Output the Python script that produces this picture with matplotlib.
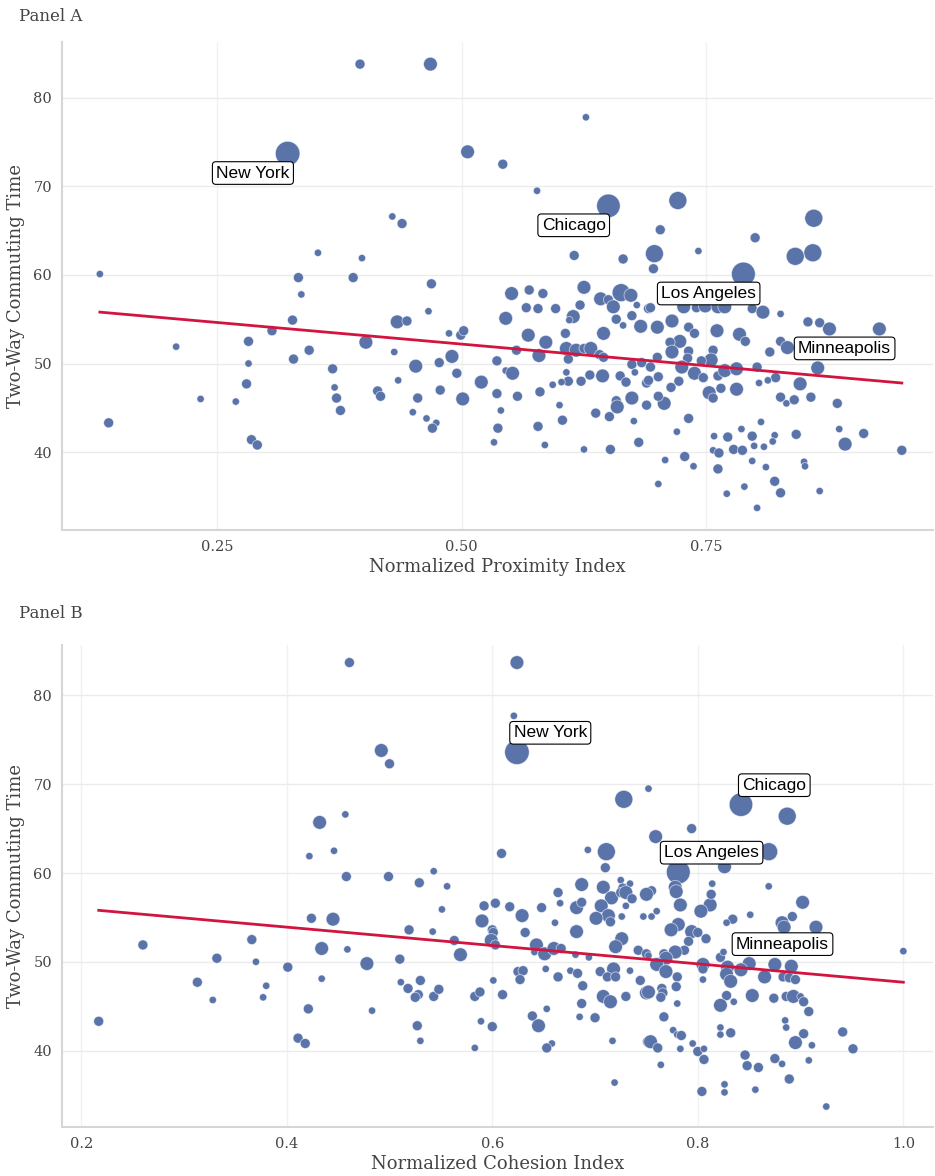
import numpy as np
import matplotlib
matplotlib.use("Agg")
import matplotlib.pyplot as plt

# Panel A: proximity index vs commuting time (first four rows are the labelled cities)
cities = ["New York", "Chicago", "Los Angeles", "Minneapolis"]

xA = [0.322, 0.650, 0.788, 0.927,
      0.396, 0.468, 0.627, 0.506, 0.542, 0.577, 0.721, 0.703, 0.429, 0.439, 0.860, 0.697,
      0.859, 0.841, 0.800, 0.353, 0.398, 0.742, 0.615, 0.665, 0.696, 0.130, 0.333, 0.389,
      0.336, 0.327, 0.306, 0.282, 0.344, 0.208, 0.282, 0.328, 0.368, 0.280, 0.370, 0.372,
      0.376, 0.233, 0.269, 0.139, 0.285, 0.291, 0.469, 0.466, 0.434, 0.444, 0.402, 0.431,
      0.487, 0.499, 0.502, 0.453, 0.477, 0.490, 0.495, 0.435, 0.414, 0.417, 0.455, 0.478,
      0.501, 0.450, 0.464, 0.474, 0.470, 0.520, 0.536, 0.545, 0.552, 0.536, 0.557, 0.540,
      0.537, 0.533, 0.551, 0.569, 0.583, 0.566, 0.578, 0.596, 0.545, 0.568, 0.586, 0.556,
      0.579, 0.625, 0.621, 0.614, 0.610, 0.606, 0.607, 0.617, 0.625, 0.632, 0.609, 0.642,
      0.650, 0.655, 0.663, 0.673, 0.679, 0.658, 0.665, 0.674, 0.683, 0.691, 0.645, 0.641,
      0.645, 0.607, 0.609, 0.602, 0.593, 0.580, 0.622, 0.631, 0.644, 0.662, 0.668, 0.674,
      0.677, 0.674, 0.658, 0.659, 0.689, 0.689, 0.600, 0.603, 0.637, 0.651, 0.676, 0.578,
      0.585, 0.625, 0.652, 0.681, 0.684, 0.693, 0.727, 0.740, 0.749, 0.762, 0.769, 0.797,
      0.808, 0.826, 0.854, 0.866, 0.876, 0.700, 0.715, 0.732, 0.738, 0.723, 0.713, 0.715,
      0.732, 0.761, 0.784, 0.790, 0.757, 0.755, 0.745, 0.731, 0.725, 0.700, 0.693, 0.691,
      0.701, 0.722, 0.738, 0.747, 0.762, 0.769, 0.781, 0.802, 0.826, 0.815, 0.833, 0.821,
      0.813, 0.804, 0.846, 0.826, 0.832, 0.840, 0.857, 0.884, 0.864, 0.753, 0.757, 0.765,
      0.781, 0.714, 0.707, 0.701, 0.732, 0.720, 0.758, 0.772, 0.786, 0.797, 0.806, 0.820,
      0.818, 0.842, 0.886, 0.911, 0.892, 0.950, 0.708, 0.728, 0.737, 0.757, 0.763, 0.778,
      0.787, 0.799, 0.809, 0.797, 0.811, 0.850, 0.851, 0.762, 0.701, 0.789, 0.771, 0.820,
      0.826, 0.866, 0.802]
yA = [73.7, 67.8, 60.1, 53.9,
      83.8, 83.8, 77.8, 73.9, 72.5, 69.5, 68.4, 65.1, 66.6, 65.8, 66.4, 62.4,
      62.5, 62.1, 64.2, 62.5, 61.9, 62.7, 62.2, 61.8, 60.7, 60.1, 59.7, 59.7,
      57.8, 54.9, 53.7, 52.5, 51.5, 51.9, 50.0, 50.5, 49.4, 47.7, 47.3, 46.1,
      44.7, 46.0, 45.7, 43.3, 41.4, 40.8, 59.0, 55.9, 54.7, 54.8, 52.4, 51.3,
      53.4, 53.2, 53.7, 49.7, 50.1, 50.8, 48.9, 48.1, 46.9, 46.3, 46.1, 47.0,
      46.0, 44.5, 43.8, 43.3, 42.7, 47.9, 50.3, 49.2, 48.9, 46.6, 46.3, 44.7,
      42.7, 41.1, 57.9, 58.3, 57.9, 56.3, 56.2, 56.2, 55.1, 53.2, 52.4, 51.5,
      50.9, 58.6, 56.6, 55.3, 54.9, 53.4, 51.7, 51.5, 51.7, 51.7, 50.5, 57.3,
      57.2, 56.4, 58.0, 57.7, 56.6, 55.0, 54.3, 55.4, 54.2, 56.2, 53.4, 51.0,
      50.7, 49.0, 48.0, 47.9, 47.6, 46.8, 48.0, 48.7, 48.6, 48.6, 47.9, 49.9,
      49.0, 46.1, 45.8, 45.1, 47.8, 45.3, 45.3, 43.6, 44.4, 44.0, 43.5, 42.9,
      40.8, 40.3, 40.3, 41.1, 50.1, 56.3, 56.4, 56.3, 56.5, 56.4, 56.4, 56.2,
      55.8, 55.6, 54.7, 54.6, 53.9, 54.1, 54.8, 54.1, 53.4, 52.5, 52.4, 51.3,
      51.4, 53.7, 53.3, 52.5, 51.5, 50.4, 50.3, 50.6, 49.6, 50.7, 49.6, 48.1,
      48.5, 48.0, 48.9, 48.4, 48.6, 49.2, 49.4, 49.6, 52.5, 51.3, 51.8, 48.4,
      48.1, 47.8, 47.7, 46.2, 45.5, 45.9, 46.2, 45.5, 49.5, 46.7, 46.1, 47.2,
      47.1, 47.3, 45.5, 46.3, 43.8, 42.3, 41.8, 41.7, 42.6, 41.8, 43.4, 41.9,
      41.2, 42.0, 42.6, 42.1, 40.9, 40.2, 39.1, 39.5, 38.4, 40.2, 39.9, 40.3,
      40.2, 40.7, 40.6, 39.0, 38.3, 38.9, 38.4, 38.1, 36.4, 36.1, 35.3, 36.7,
      35.4, 35.6, 33.7]
popA = [10.5, 9.5, 9.8, 2.5,
        1.0, 2.5, 0.35, 2.5, 1.0, 0.35, 5.0, 1.0, 0.35, 1.0, 5.0, 5.0,
        5.0, 5.0, 1.0, 0.35, 0.35, 0.35, 1.0, 1.0, 1.0, 0.35, 1.0, 1.0,
        0.35, 1.0, 1.0, 1.0, 1.0, 0.35, 0.35, 1.0, 1.0, 1.0, 0.35, 1.0,
        1.0, 0.35, 0.35, 1.0, 1.0, 1.0, 1.0, 0.35, 2.5, 1.0, 2.5, 0.35,
        0.35, 1.0, 1.0, 2.5, 1.0, 2.5, 1.0, 0.35, 1.0, 1.0, 1.0, 1.0,
        2.5, 0.35, 0.35, 0.35, 1.0, 2.5, 1.0, 0.35, 2.5, 1.0, 1.0, 0.35,
        1.0, 0.35, 2.5, 1.0, 1.0, 1.0, 1.0, 1.0, 2.5, 2.5, 2.5, 1.0,
        2.5, 2.5, 1.0, 2.5, 0.35, 1.0, 2.5, 2.5, 1.0, 2.5, 1.0, 2.5,
        1.0, 2.5, 5.0, 2.5, 0.35, 1.0, 0.35, 1.0, 2.5, 1.0, 2.5, 1.0,
        1.0, 0.35, 1.0, 0.35, 0.35, 1.0, 1.0, 1.0, 2.5, 1.0, 1.0, 1.0,
        0.35, 2.5, 1.0, 2.5, 1.0, 1.0, 0.35, 1.0, 1.0, 1.0, 0.35, 1.0,
        0.35, 0.35, 1.0, 1.0, 1.0, 1.0, 2.5, 1.0, 2.5, 2.5, 2.5, 1.0,
        2.5, 0.35, 1.0, 1.0, 2.5, 2.5, 2.5, 1.0, 1.0, 2.5, 1.0, 2.5,
        1.0, 2.5, 2.5, 1.0, 1.0, 2.5, 1.0, 1.0, 2.5, 1.0, 1.0, 1.0,
        1.0, 1.0, 2.5, 1.0, 1.0, 2.5, 2.5, 1.0, 1.0, 1.0, 2.5, 1.0,
        0.35, 0.35, 2.5, 1.0, 0.35, 1.0, 1.0, 1.0, 2.5, 2.5, 1.0, 1.0,
        2.5, 1.0, 2.5, 1.0, 1.0, 0.35, 0.35, 1.0, 0.35, 1.0, 0.35, 0.35,
        0.35, 1.0, 0.35, 1.0, 2.5, 1.0, 0.35, 1.0, 0.35, 0.35, 1.0, 1.0,
        1.0, 0.35, 0.35, 0.35, 0.35, 0.35, 0.35, 1.0, 0.35, 0.35, 0.35, 1.0,
        1.0, 0.35, 0.35]

# Panel B: cohesion index vs commuting time
xB = [0.624, 0.842, 0.781, 0.850,
      0.461, 0.432, 0.457, 0.446, 0.422, 0.458, 0.624, 0.621, 0.492, 0.500, 0.728, 0.752,
      0.609, 0.693, 0.711, 0.710, 0.499, 0.529, 0.543, 0.556, 0.687, 0.708, 0.725, 0.734,
      0.727, 0.887, 0.794, 0.759, 0.869, 0.826, 0.778, 0.814, 0.869, 0.755, 0.424, 0.445,
      0.260, 0.366, 0.434, 0.459, 0.332, 0.370, 0.401, 0.313, 0.328, 0.380, 0.377, 0.434,
      0.421, 0.217, 0.411, 0.418, 0.551, 0.519, 0.542, 0.478, 0.510, 0.511, 0.518, 0.530,
      0.528, 0.525, 0.543, 0.548, 0.563, 0.569, 0.483, 0.527, 0.530, 0.583, 0.589, 0.600,
      0.583, 0.588, 0.610, 0.601, 0.590, 0.592, 0.603, 0.617, 0.629, 0.600, 0.601, 0.599,
      0.603, 0.632, 0.625, 0.630, 0.627, 0.643, 0.641, 0.651, 0.660, 0.667, 0.648, 0.666,
      0.664, 0.661, 0.652, 0.664, 0.639, 0.645, 0.653, 0.658, 0.653, 0.682, 0.682, 0.687,
      0.681, 0.694, 0.676, 0.683, 0.688, 0.687, 0.685, 0.700, 0.716, 0.725, 0.730, 0.736,
      0.730, 0.706, 0.713, 0.701, 0.715, 0.726, 0.726, 0.720, 0.742, 0.750, 0.747, 0.750,
      0.705, 0.718, 0.712, 0.720, 0.734, 0.744, 0.750, 0.708, 0.715, 0.730, 0.717, 0.719,
      0.751, 0.779, 0.783, 0.812, 0.813, 0.803, 0.902, 0.892, 0.851, 0.834, 0.828, 0.882,
      0.884, 0.915, 0.755, 0.760, 0.781, 0.774, 0.794, 0.800, 0.808, 0.791, 0.787, 0.778,
      0.767, 0.752, 0.769, 0.760, 0.769, 0.780, 0.805, 0.805, 0.805, 0.822, 0.829, 0.828,
      0.832, 0.842, 0.825, 0.875, 0.891, 0.865, 0.883, 0.889, 0.895, 0.752, 0.765, 0.766,
      0.764, 0.779, 0.780, 0.828, 0.835, 0.822, 0.853, 0.874, 0.886, 0.893, 0.900, 0.903,
      0.908, 0.767, 0.776, 0.780, 0.784, 0.754, 0.761, 0.783, 0.795, 0.800, 0.806, 0.806,
      0.764, 0.822, 0.822, 0.832, 0.804, 0.826, 0.826, 0.846, 0.848, 0.859, 0.856, 0.885,
      0.886, 0.903, 0.895, 0.911, 0.875, 0.882, 0.908, 0.889, 0.925, 0.941, 0.951, 1.000]
yB = [73.6, 67.7, 60.1, 49.8,
      83.7, 65.7, 66.6, 62.5, 61.9, 59.6, 83.7, 77.7, 73.8, 72.3, 68.3, 69.5,
      62.2, 62.6, 62.4, 60.6, 59.6, 58.9, 60.2, 58.5, 58.7, 58.4, 59.2, 58.8,
      58.3, 66.4, 65.0, 64.1, 62.4, 60.7, 58.4, 58.8, 58.5, 58.0, 54.9, 54.8,
      51.9, 52.5, 51.5, 51.4, 50.4, 50.0, 49.4, 47.7, 45.7, 47.3, 46.0, 48.1,
      44.7, 43.3, 41.4, 40.8, 55.9, 53.6, 53.4, 49.8, 50.3, 47.7, 47.0, 47.9,
      46.3, 46.0, 46.1, 46.9, 52.4, 50.8, 44.5, 42.8, 41.1, 40.3, 43.3, 42.7,
      46.1, 46.6, 46.3, 47.9, 54.6, 56.3, 56.6, 56.2, 55.2, 53.6, 53.3, 52.4,
      51.9, 53.3, 48.9, 49.0, 48.0, 51.9, 51.1, 50.9, 51.5, 51.5, 56.1, 56.6,
      57.8, 54.4, 49.2, 48.3, 43.9, 42.8, 44.7, 40.8, 40.3, 53.4, 56.1, 56.7,
      50.8, 50.5, 49.0, 48.7, 47.3, 45.3, 43.8, 43.7, 57.2, 57.8, 57.8, 57.1,
      56.3, 56.3, 55.2, 54.9, 54.5, 55.1, 52.6, 51.7, 51.3, 50.9, 55.1, 57.6,
      48.9, 49.2, 48.3, 48.3, 49.0, 47.9, 46.5, 46.1, 45.5, 46.1, 41.1, 36.4,
      41.0, 57.9, 56.4, 56.4, 57.6, 55.7, 56.7, 55.1, 55.3, 54.8, 54.4, 54.4,
      53.9, 53.9, 55.1, 55.7, 54.2, 53.6, 53.4, 53.3, 52.6, 52.3, 51.3, 51.1,
      50.9, 50.7, 50.4, 49.7, 48.9, 48.3, 49.7, 49.2, 48.0, 50.5, 49.4, 48.6,
      47.8, 49.1, 51.1, 49.7, 49.5, 48.3, 48.3, 48.2, 48.0, 46.6, 47.0, 46.5,
      46.0, 47.2, 45.3, 46.2, 45.5, 45.1, 46.2, 45.9, 46.1, 46.1, 46.1, 45.5,
      44.4, 43.8, 42.3, 41.8, 41.7, 41.0, 40.3, 40.2, 40.8, 39.9, 40.2, 39.0,
      38.4, 42.6, 41.8, 42.0, 35.4, 36.2, 35.3, 39.5, 38.3, 38.1, 35.6, 43.4,
      42.6, 41.9, 40.9, 40.6, 39.1, 38.5, 38.9, 36.8, 33.7, 42.1, 40.2, 51.2]
popB = [10.5, 9.5, 9.8, 2.5,
        1.0, 2.5, 0.35, 0.35, 0.35, 1.0, 2.5, 0.35, 2.5, 1.0, 5.0, 0.35,
        1.0, 0.35, 5.0, 1.0, 1.0, 1.0, 0.35, 0.35, 2.5, 2.5, 0.35, 0.35,
        1.0, 5.0, 1.0, 2.5, 5.0, 2.5, 2.5, 0.35, 0.35, 1.0, 1.0, 2.5,
        1.0, 1.0, 2.5, 0.35, 1.0, 0.35, 1.0, 1.0, 0.35, 0.35, 0.35, 0.35,
        1.0, 1.0, 1.0, 1.0, 0.35, 1.0, 0.35, 2.5, 1.0, 0.35, 1.0, 1.0,
        1.0, 1.0, 1.0, 1.0, 1.0, 2.5, 0.35, 1.0, 0.35, 0.35, 0.35, 1.0,
        1.0, 1.0, 1.0, 0.35, 2.5, 1.0, 1.0, 1.0, 2.5, 1.0, 1.0, 2.5,
        1.0, 1.0, 1.0, 1.0, 1.0, 2.5, 0.35, 2.5, 2.5, 1.0, 1.0, 0.35,
        1.0, 0.35, 0.35, 1.0, 1.0, 2.5, 0.35, 0.35, 1.0, 2.5, 2.5, 1.0,
        0.35, 0.35, 0.35, 1.0, 1.0, 1.0, 0.35, 1.0, 2.5, 1.0, 2.5, 1.0,
        0.35, 2.5, 2.5, 2.5, 1.0, 0.35, 2.5, 2.5, 1.0, 1.0, 0.35, 2.5,
        1.0, 2.5, 1.0, 1.0, 0.35, 1.0, 2.5, 2.5, 2.5, 1.0, 0.35, 0.35,
        1.0, 2.5, 2.5, 2.5, 1.0, 2.5, 2.5, 1.0, 0.35, 1.0, 0.35, 2.5,
        2.5, 2.5, 0.35, 0.35, 2.5, 2.5, 2.5, 1.0, 1.0, 1.0, 1.0, 2.5,
        1.0, 0.35, 2.5, 2.5, 2.5, 1.0, 2.5, 1.0, 0.35, 1.0, 2.5, 2.5,
        2.5, 2.5, 0.35, 2.5, 2.5, 2.5, 1.0, 1.0, 1.0, 2.5, 1.0, 1.0,
        1.0, 1.0, 0.35, 1.0, 0.35, 2.5, 2.5, 1.0, 1.0, 2.5, 0.35, 1.0,
        1.0, 1.0, 0.35, 0.35, 1.0, 2.5, 1.0, 0.35, 0.35, 1.0, 0.35, 1.0,
        0.35, 0.35, 0.35, 1.0, 1.0, 0.35, 0.35, 1.0, 1.0, 1.0, 0.35, 0.35,
        0.35, 1.0, 2.5, 0.35, 1.0, 0.35, 0.35, 1.0, 0.35, 1.0, 1.0, 0.35]

# fitted regression lines (intercept, slope)
fitA = (57.07, -9.76)
fitB = (58.04, -10.34)

DOT = "#5a74aa"
LINE = "#d2143f"
GRID = "#ebebeb"
SPINE = "#d6d6d6"
TXT = "#444444"

plt.rcParams["font.family"] = ["DejaVu Serif"]

fig = plt.figure(figsize=(9.35, 11.76), dpi=100)


def msize(pop):
    d_px = 3.5 + 6.5 * np.sqrt(np.asarray(pop))
    return (d_px * 0.72) ** 2


def panel(rect, x, y, pop, fit, xlim, ylim, xticks, xticklabels, xlabel, title, title_y, off):
    ax = fig.add_axes(rect)
    x = np.asarray(x)
    y = np.asarray(y)
    ax.scatter(x, y, s=msize(pop), color=DOT, edgecolors=(1, 1, 1, 0.6),
               linewidths=0.6, zorder=3)
    xs = np.array([x.min(), x.max()])
    ax.plot(xs, fit[0] + fit[1] * xs, color=LINE, lw=2.0, zorder=4)
    for i, name in enumerate(cities):
        ax.annotate(name, (x[i], y[i]), xytext=off, textcoords="offset points",
                    ha="center", va="center", fontsize=12.5, family="Liberation Sans",
                    color="black", zorder=6,
                    bbox=dict(boxstyle="round,pad=0.22,rounding_size=0.2",
                              fc="white", ec="black", lw=0.8))
    ax.set_xlim(*xlim)
    ax.set_ylim(*ylim)
    ax.set_xticks(xticks)
    ax.set_xticklabels(xticklabels)
    ax.set_yticks([40, 50, 60, 70, 80])
    ax.grid(True, axis="y", color=GRID, lw=1.0, zorder=0)
    ax.grid(True, axis="x", color="#f1f1f1", lw=1.0, zorder=0)
    ax.set_axisbelow(True)
    for s in ["top", "right"]:
        ax.spines[s].set_visible(False)
    for s in ["left", "bottom"]:
        ax.spines[s].set_color(SPINE)
        ax.spines[s].set_linewidth(1.5)
    ax.tick_params(length=0, pad=7, labelsize=10.5, labelcolor=TXT)
    ax.set_xlabel(xlabel, fontsize=13, color=TXT, labelpad=3)
    ax.set_ylabel("Two-Way Commuting Time", fontsize=13, color=TXT, labelpad=6)
    fig.text(0.02, title_y, title, fontsize=12, color=TXT, ha="left", va="center")
    return ax


panel([0.066, 0.5493, 0.932, 0.4150], xA, yA, popA, fitA,
      (0.091, 0.982), (31.2, 86.3), [0.25, 0.50, 0.75], ["0.25", "0.50", "0.75"],
      "Normalized Proximity Index", "Panel A", 0.986, (-25, -14))
panel([0.066, 0.0417, 0.932, 0.4100], xB, yB, popB, fitB,
      (0.181, 1.029), (31.4, 85.7), [0.2, 0.4, 0.6, 0.8, 1.0],
      ["0.2", "0.4", "0.6", "0.8", "1.0"],
      "Normalized Cohesion Index", "Panel B", 0.478, (24, 14))

fig.savefig("out.png", dpi=100)
